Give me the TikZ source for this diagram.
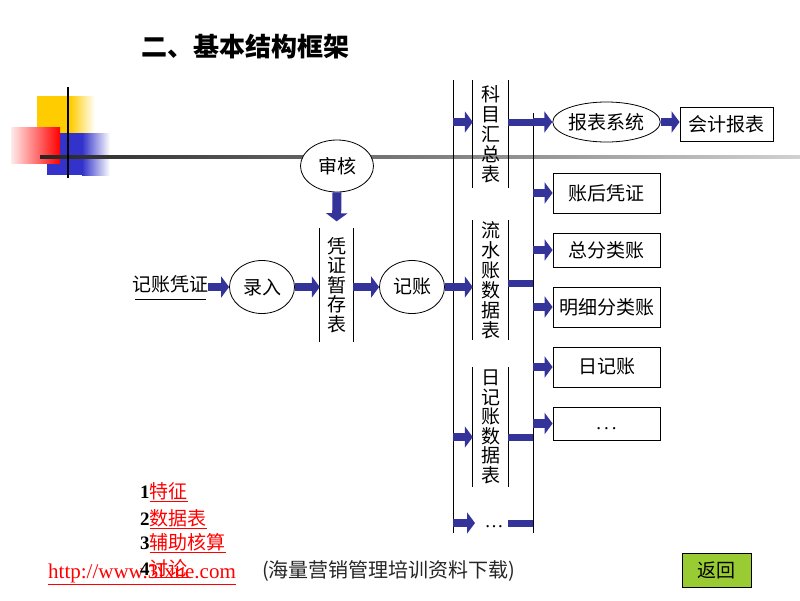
\documentclass[tikz,border=0pt]{standalone}
\usepackage{fontspec}
\setmainfont{Liberation Serif}
\newfontfamily\cjk{Noto Sans CJK SC}
\usetikzlibrary{arrows.meta,shapes.geometric,calc}
\definecolor{navy}{RGB}{51,51,153}
\definecolor{ylw}{RGB}{255,204,0}
\definecolor{blu}{RGB}{51,51,204}
\definecolor{btn}{RGB}{153,204,51}
\begin{document}
\begin{tikzpicture}[x=1pt,y=-1pt,
  cj/.style={font=\cjk\fontsize{19}{20}\selectfont},
  oval/.style={ellipse, draw=black, line width=0.8pt, fill=white, inner sep=0pt, cj},
  box/.style={draw=black, line width=0.8pt, minimum width=107pt, inner sep=0pt, cj},
  tab/.style={minimum width=35pt, inner sep=0pt, text width=20pt, align=center, cj},
  tline/.style={line width=0.9pt},
  barrow/.style={navy, line width=8.5pt, -{Triangle[length=8pt,width=21pt]}},
  bar/.style={navy, line width=7pt},
  red list/.style={anchor=base west, inner sep=0pt, font=\fontsize{19}{19}\selectfont}
]
\useasboundingbox (0,0) rectangle (800,600);
\fill[white] (0,0) rectangle (800,600);

% decoration
\fill[ylw] (37,96) rectangle (70,133);
\shade[left color=ylw, right color=white] (70,96) rectangle (95,133);
\fill[blu] (47,133) rectangle (82,175);
\shade[left color=blu, right color=white] (82,133) rectangle (110,175);
\shade[left color=red!8, right color=red] (11,127) rectangle (60,163);
\shade[left color=black!85, right color=black!18] (40,155.5) rectangle (800,158.5);
\draw[line width=1.5pt] (68,87) -- (68,178);

% title
\node[font=\cjk\bfseries\fontsize{26}{26}\selectfont, inner sep=0pt] (title) at (245,47) {二、基本结构框架};

% left chain
\node[cj, inner sep=0pt] (jzpz) at (170,284) {记账凭证};
\draw[line width=0.8pt] ([xshift=3pt,yshift=-6pt]jzpz.south west) -- ([xshift=-2pt,yshift=-6pt]jzpz.south east);
\node[oval, minimum width=65pt, minimum height=53pt] (lr) at (262,287) {录入};
\node[oval, minimum width=73pt, minimum height=52pt] (sh) at (337,166) {审核};
\node[tab, minimum width=33pt, minimum height=113pt, font=\cjk\fontsize{19}{19.4}\selectfont] (pz) at (336.5,285) {凭\\证\\暂\\存\\表};
\draw[tline] (pz.north west) -- (pz.south west) (pz.north east) -- (pz.south east);
\node[oval, minimum width=65pt, minimum height=53pt] (jz) at (412,287) {记账};

\draw[barrow] (jzpz.east |- lr.west) -- (lr.west);
\draw[navy, line width=9pt, -{Triangle[length=8pt,width=21pt]}, shorten >=7pt] (sh.south) -- (pz.north);
\draw[barrow] (lr.east) -- (pz.west |- lr.east);
\draw[barrow] (pz.east |- jz.west) -- (jz.west);

% data tables
\node[tab, minimum height=108pt] (t1) at (490.5,134) {科\\目\\汇\\总\\表};
\node[tab, minimum height=120pt] (t2) at (490.5,280) {流\\水\\账\\数\\据\\表};
\node[tab, minimum height=120pt, font=\cjk\fontsize{19}{19.6}\selectfont] (t3) at (490.5,427) {日\\记\\账\\数\\据\\表};
\foreach \t in {t1,t2,t3}{
  \draw[tline] (\t.north west) -- (\t.south west) (\t.north east) -- (\t.south east);
}
\node[anchor=base, inner sep=0pt, font=\fontsize{19}{19}\selectfont] (dots) at (494,527) {\ldots};

\coordinate (v1t) at (453,80);
\coordinate (v1b) at (453,533);
\coordinate (v2t) at (533,113);
\coordinate (v2b) at (533,533);
\draw[tline] (v1t) -- (v1b);
\draw[tline] (v2t) -- (v2b);

\coordinate (r1) at (0,122);
\coordinate (r2) at (0,283);
\coordinate (r3) at (0,437);
\coordinate (r4) at (0,523);

\draw[barrow] (v1t |- r1) -- (t1.west |- r1);
\draw[barrow] (jz.east) -- (t2.west |- jz.east);
\draw[barrow] (v1t |- r3) -- (t3.west |- r3);
\draw[barrow] (v1t |- r4) -- (475,523);

\draw[bar] (t1.east |- r1) -- (v2t |- r1);
\draw[bar] (t2.east |- r2) -- (v2t |- r2);
\draw[bar] (t3.east |- r3) -- (v2t |- r3);
\draw[bar] (508,523) -- (v2t |- r4);

% outputs
\node[oval, minimum width=107pt, minimum height=40pt] (bb) at (606.5,122) {报表系统};
\node[box, minimum width=93pt, minimum height=34pt] (kj) at (726.5,124) {会计报表};
\node[box, minimum height=40pt] (zh) at (606.5,193) {账后凭证};
\node[box, minimum height=34pt] (zf) at (606.5,250) {总分类账};
\node[box, minimum height=40pt] (mx) at (606.5,307) {明细分类账};
\node[box, minimum height=40pt] (rj) at (606.5,367) {日记账};
\node[box, minimum height=33pt, font=\fontsize{19}{19}\selectfont] (et) at (606.5,423.5) {\smash{\raisebox{-6pt}{.\hspace{3pt}.\hspace{3pt}.}}};

\draw[barrow] (v2t |- r1) -- (bb.west);
\draw[barrow] (bb.east) -- (kj.west |- bb.east);
\draw[barrow] (v2t |- zh.west) -- (zh.west);
\draw[barrow] (v2t |- zf.west) -- (zf.west);
\draw[barrow] (v2t |- mx.west) -- (mx.west);
\draw[barrow] (v2t |- rj.west) -- (rj.west);
\draw[barrow] (v2t |- et.west) -- (et.west);

% bottom
\node[anchor=base west, inner sep=0pt, font=\fontsize{21}{21}\selectfont] (url) at (48,578) {\color{red}\underline{http://www.3lxue.com}};
\node[red list] (l1) at (140,498) {\textbf{1}{\cjk\color{red}\underline{特征}}};
\node[red list] (l2) at (140,525) {\textbf{2}{\cjk\color{red}\underline{数据表}}};
\node[red list] (l3) at (140,549) {\textbf{3}{\cjk\color{red}\underline{辅助核算}}};
\node[red list] (l4) at (140,575) {\textbf{4}{\cjk\color{red}\underline{讨论}}};
\node[anchor=west, inner sep=0pt, font=\cjk\fontsize{20}{20}\selectfont, text=black!85] (dl) at (262,571) {(海量营销管理培训资料下载)};
\node[draw=black, line width=0.8pt, fill=btn, minimum width=69pt, minimum height=34pt, inner sep=0pt, cj] (back) at (716.5,570) {返回};
\end{tikzpicture}
\end{document}
